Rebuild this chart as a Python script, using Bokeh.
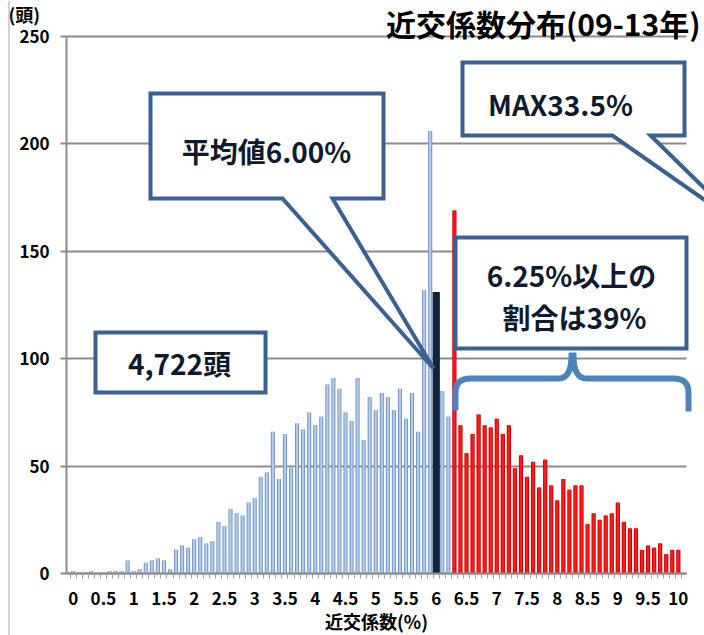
from bokeh.plotting import figure
from bokeh.models import Range1d, FixedTicker, Label, PolyAnnotation, ColumnDataSource, Span
from bokeh.embed import file_html
from bokeh.resources import INLINE

# ---------------- data ----------------
coeff_pct = [round(i * 0.1, 1) for i in range(101)]          # 近交係数 (%) categories 0.0 .. 10.0
head_counts = [1, 0, 0, 1, 0, 0, 1, 1, 1, 6,
               1, 2, 5, 6, 7, 6, 2, 11, 13, 12,
               16, 17, 14, 15, 24, 22, 30, 28, 27, 33,
               35, 45, 47, 66, 44, 65, 49, 70, 67, 75,
               69, 73, 88, 91, 86, 75, 71, 91, 62, 82,
               76, 84, 82, 76, 86, 72, 84, 66, 132, 206,
               131, 85, 73, 169, 69, 56, 65, 74, 69, 68,
               72, 65, 69, 49, 55, 45, 52, 40, 53, 41,
               34, 44, 39, 41, 41, 23, 28, 25, 27, 28,
               33, 24, 21, 21, 11, 13, 12, 14, 9, 11,
               11]
mean_pct = 6.0
threshold_pct = 6.25
x_tick_values = [i * 0.5 for i in range(21)]
x_tick_labels = ["0", "0.5", "1", "1.5", "2", "2.5", "3", "3.5", "4", "4.5", "5",
                 "5.5", "6", "6.5", "7", "7.5", "8", "8.5", "9", "9.5", "10"]
y_tick_values = [0, 50, 100, 150, 200, 250]

title_text = "近交係数分布(09-13年)"
unit_text = "(頭)"
x_axis_text = "近交係数(%)"
total_text = "4,722頭"
mean_text = "平均値6.00%"
max_text = "MAX33.5%"
share_text = ["6.25%以上の", "割合は39%"]

FONT = "Noto Sans CJK JP"

# page pixel -> data helpers (plot area spans page x 66..686, y 36..573)
def X(px):
    return -0.11 + (px - 66) * (10.245 / 620.0)

def Y(py):
    return (573 - py) * (250.0 / 537.0)

X_LEFT, X_RIGHT = X(66), X(686)

# ---------------- figure ----------------
W, H = 704, 635
p = figure(width=W, height=H, output_backend="svg", toolbar_location=None,
           x_range=Range1d(X(0), X(W)), y_range=Range1d(Y(H), Y(0)),
           min_border_left=0, min_border_right=0, min_border_top=0, min_border_bottom=0)
p.outline_line_color = None
p.background_fill_color = "white"
p.border_fill_color = "white"

# grid (only inside the plot area)
p.xgrid.grid_line_color = None
p.ygrid.grid_line_color = "#8C8C8C"
p.ygrid.grid_line_width = 2
p.ygrid.ticker = FixedTicker(ticks=y_tick_values)
try:
    p.ygrid.cross_bounds = (X_LEFT, X_RIGHT)
    manual_grid = False
except Exception:
    p.ygrid.grid_line_color = None
    manual_grid = True
if manual_grid:
    p.segment(x0=[X_LEFT] * len(y_tick_values), x1=[X_RIGHT] * len(y_tick_values),
              y0=y_tick_values, y1=y_tick_values, line_color="#8C8C8C", line_width=2)

# y axis
p.yaxis.fixed_location = X_LEFT
p.yaxis.bounds = (0, 250)
p.yaxis.ticker = FixedTicker(ticks=y_tick_values)
p.yaxis.axis_line_color = "#8C8C8C"
p.yaxis.axis_line_width = 2
p.yaxis.major_tick_line_color = "#8C8C8C"
p.yaxis.major_tick_line_width = 2
p.yaxis.major_tick_out = 6
p.yaxis.major_tick_in = 0
p.yaxis.minor_tick_line_color = None
p.yaxis.major_label_text_font = FONT
p.yaxis.major_label_text_font_style = "bold"
p.yaxis.major_label_text_font_size = "17px"
p.yaxis.major_label_text_color = "black"
p.yaxis.major_label_standoff = 11

# x axis
minor = [round(-0.05 + 0.1 * i, 2) for i in range(102)]
p.xaxis.fixed_location = 0
p.xaxis.bounds = (X_LEFT, X_RIGHT)
p.xaxis.ticker = FixedTicker(ticks=x_tick_values, minor_ticks=minor)
p.xaxis.major_label_overrides = {v: t for v, t in zip(x_tick_values, x_tick_labels)}
p.xaxis.axis_line_color = "#8C8C8C"
p.xaxis.axis_line_width = 2
p.xaxis.major_tick_line_color = None
p.xaxis.major_tick_out = 0
p.xaxis.major_tick_in = 0
p.xaxis.minor_tick_line_color = "#A0A0A0"
p.xaxis.minor_tick_out = 5
p.xaxis.minor_tick_in = 0
p.xaxis.major_label_text_font = FONT
p.xaxis.major_label_text_font_style = "bold"
p.xaxis.major_label_text_font_size = "17px"
p.xaxis.major_label_text_color = "black"
p.xaxis.major_label_standoff = 13
p.xaxis.axis_label = x_axis_text
p.xaxis.axis_label_text_font = FONT
p.xaxis.axis_label_text_font_style = "bold"
p.xaxis.axis_label_text_font_size = "18px"
p.xaxis.axis_label_text_color = "black"
p.xaxis.axis_label_standoff = 0

# ---------------- bars ----------------
blue = {"x": [], "y": []}
dark = {"x": [], "y": []}
red = {"x": [], "y": []}
for x, c in zip(coeff_pct, head_counts):
    if abs(x - mean_pct) < 1e-9:
        grp = dark
    elif x >= threshold_pct:
        grp = red
    else:
        grp = blue
    grp["x"].append(x)
    grp["y"].append(c)

sb, sd, sr = ColumnDataSource(blue), ColumnDataSource(dark), ColumnDataSource(red)
p.vbar(x="x", top="y", width=0.068, bottom=0, source=sb, fill_color="#7396C6", line_color=None)
p.vbar(x="x", top="y", width=0.036, bottom=0, source=sb, fill_color="#B4CBE8", line_color=None)
p.vbar(x="x", top="y", width=0.07, bottom=0, source=sr, fill_color="#C80000", line_color=None)
p.vbar(x="x", top="y", width=0.04, bottom=0, source=sr, fill_color="#FF1A1A", line_color=None)
p.vbar(x="x", top="y", width=0.12, bottom=0, source=sd, fill_color="#10243E", line_color=None)

# left page frame line
p.add_layout(Span(location=X(8.5), dimension="height", line_color="#C4C4C4", line_width=1.5))

# ---------------- callouts ----------------
BORDER = "#3A6194"
TEXT_C = "#0E1B2E"

def poly(pts, fill="white", fill_alpha=1.0, lc=BORDER, lw=4):
    p.add_layout(PolyAnnotation(xs=[X(a) for a, b in pts], ys=[Y(b) for a, b in pts],
                                fill_color=fill, fill_alpha=fill_alpha,
                                line_color=lc, line_alpha=1.0, line_width=lw, line_join="miter"))

def label(px, py, text, size="28px", align="center", color=TEXT_C):
    p.add_layout(Label(x=X(px), y=Y(py), text=text, text_align=align, text_baseline="middle",
                       text_font=FONT, text_font_style="bold", text_font_size=size,
                       text_color=color))

# 4,722頭
poly([(95, 332), (265, 332), (265, 392), (95, 392)])
label(179, 362, total_text)

# 平均値 6.00%
poly([(150, 93), (383, 93), (383, 198), (332, 198), (433, 368), (282, 198), (150, 198)])
label(266, 150, mean_text)

# MAX 33.5%
poly([(462, 62), (684, 62), (684, 135), (650, 135), (745, 228), (612, 135), (462, 135)])
label(560, 103, max_text)

# 6.25%以上の割合は39%
poly([(455, 237), (686, 237), (686, 348), (455, 348)])
label(571, 274, share_text[0])
label(574, 316, share_text[1])

# brace (open path drawn there-and-back)
def qbez(p0, p1, p2, n=8):
    out = []
    for k in range(n + 1):
        t = k / n
        out.append(((1 - t) ** 2 * p0[0] + 2 * (1 - t) * t * p1[0] + t ** 2 * p2[0],
                    (1 - t) ** 2 * p0[1] + 2 * (1 - t) * t * p1[1] + t ** 2 * p2[1]))
    return out

path = [(455, 410)]
path += qbez((455, 392), (455, 378), (470, 378))
path += [(558, 378)]
path += qbez((558, 378), (571, 378), (571, 355))
path += qbez((573, 355), (573, 378), (586, 378))
path += [(673, 378)]
path += qbez((673, 378), (688, 378), (688, 392))
path += [(688, 411)]
full = path + path[::-1]
poly(full, fill=None, fill_alpha=0.0, lc="#4F81BD", lw=6)

# titles
label(700, 22, title_text, size="30px", align="right", color="black")
label(8, 13, unit_text, size="18px", align="left", color="black")

open("out.html", "w").write(file_html(p, INLINE))
